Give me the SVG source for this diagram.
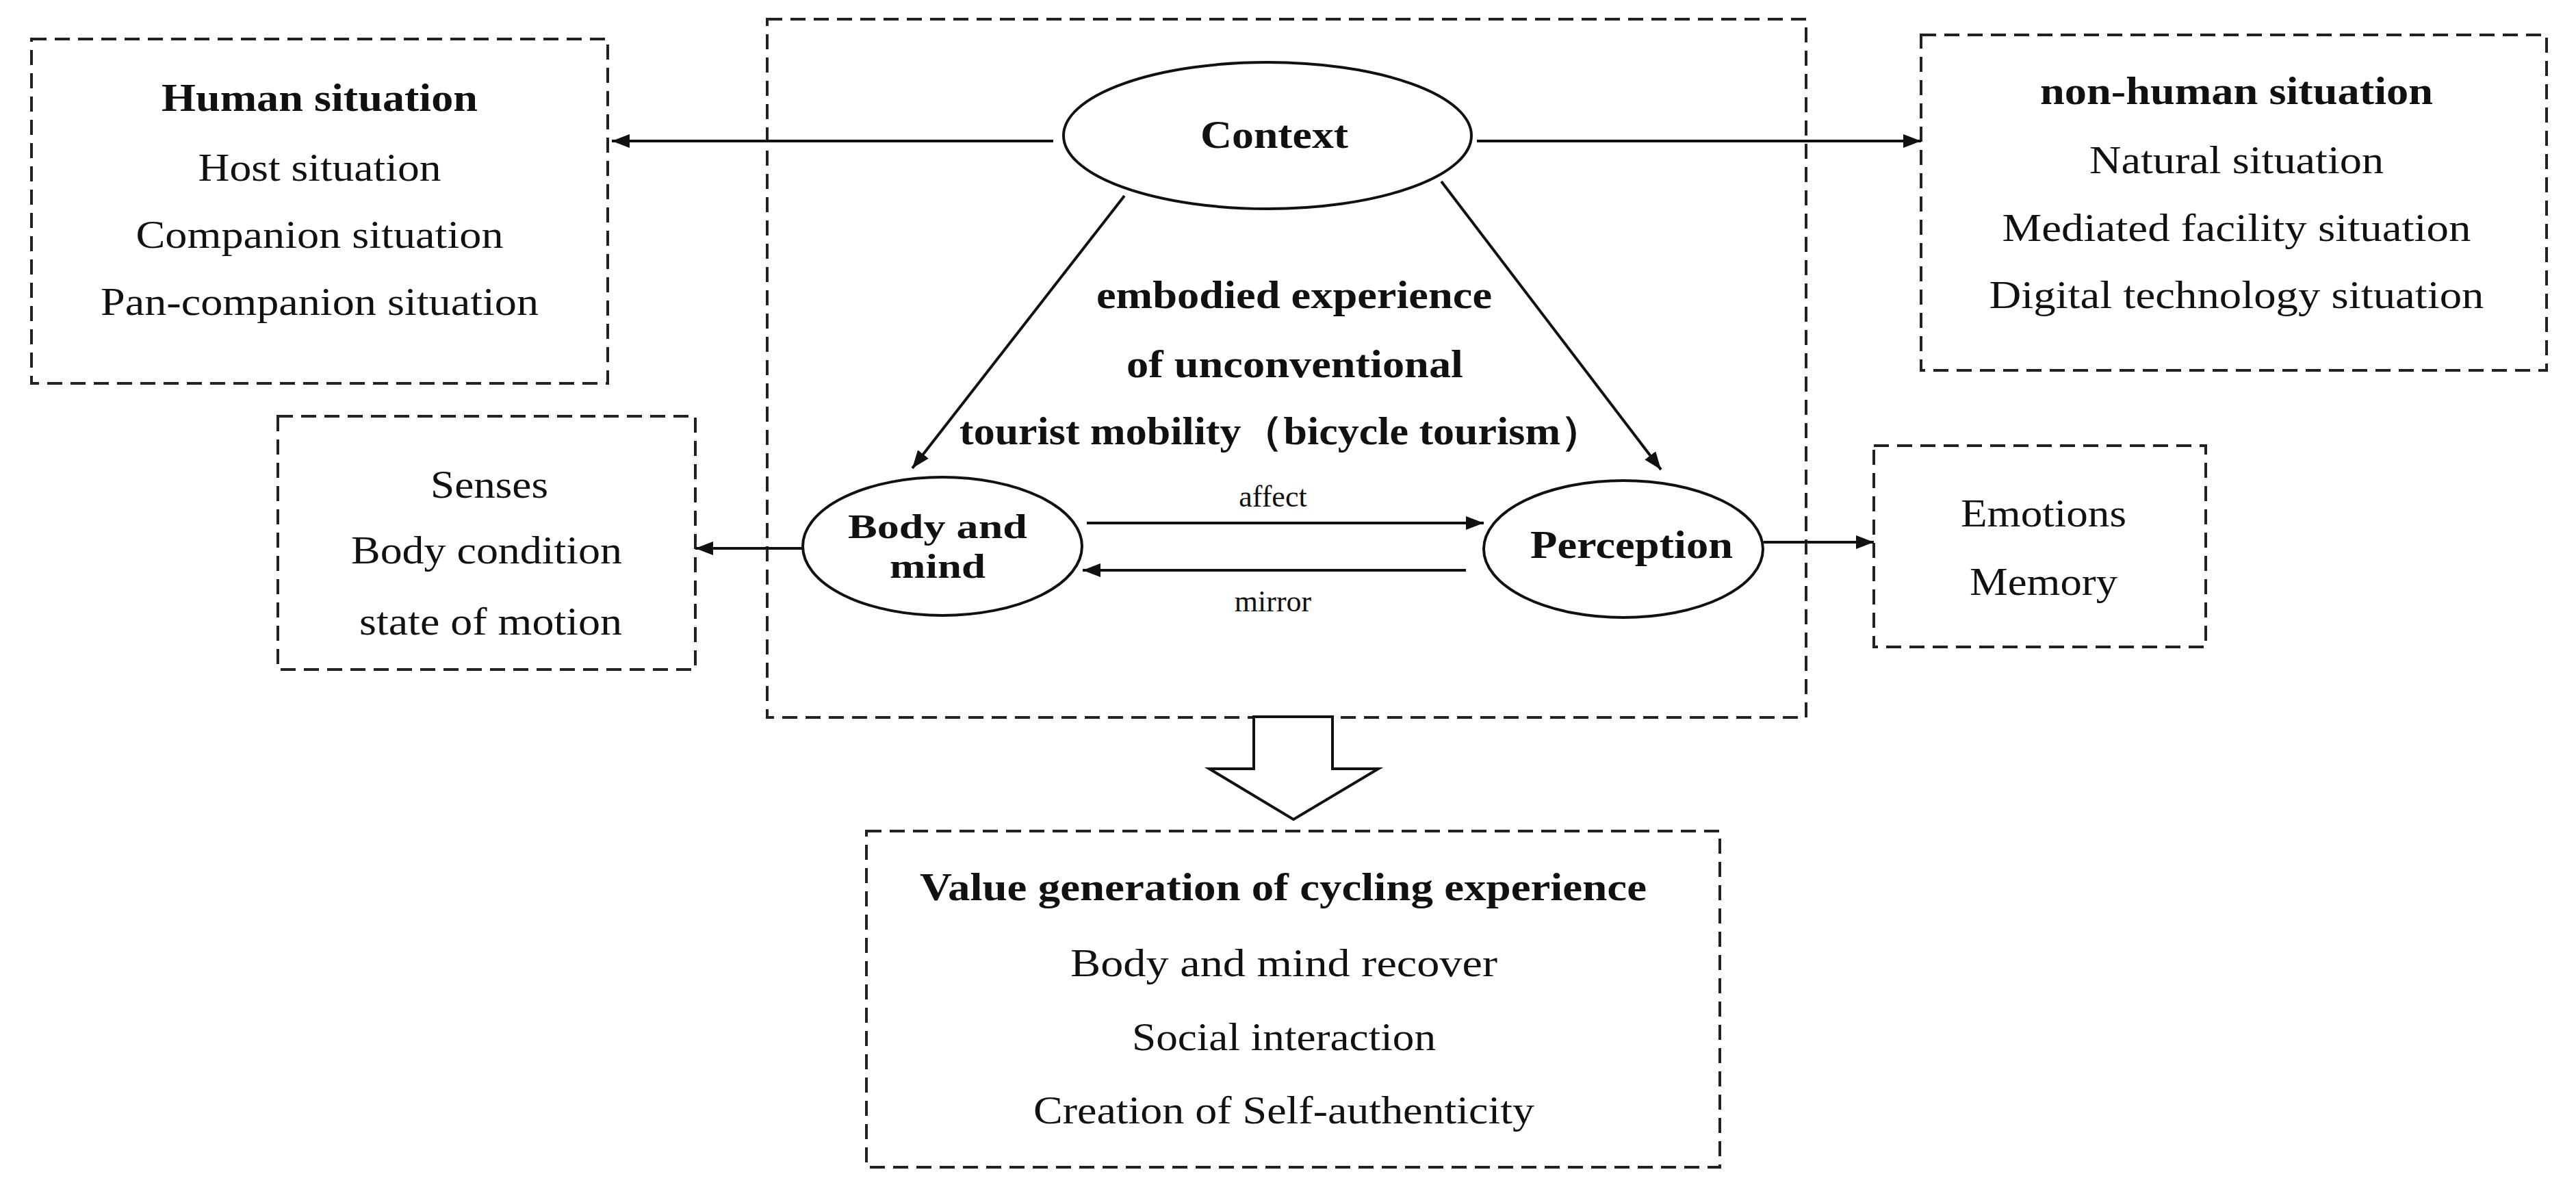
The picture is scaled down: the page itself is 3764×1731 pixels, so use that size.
<svg xmlns="http://www.w3.org/2000/svg" width="3764" height="1731" viewBox="0 0 3764 1731">
<style>
.box{fill:none;stroke:#222;stroke-width:4;stroke-dasharray:22,12}
.el{fill:#fff;stroke:#111;stroke-width:4}
.ln{fill:none;stroke:#111;stroke-width:4}
text{font-family:"Liberation Serif","Times New Roman",serif;font-size:58px;fill:#111;text-anchor:middle}
.b{font-weight:bold}
.s{font-size:44px}
.m{font-size:50px}
</style>
<defs>
<marker id="a" viewBox="0 0 26 20" refX="26" refY="10" markerWidth="26" markerHeight="20" markerUnits="userSpaceOnUse" orient="auto">
<path d="M0,0 L26,10 L0,20 z" fill="#111"/>
</marker>
</defs>
<g id="frame"><rect class="box" x="1121" y="28" width="1518" height="1020"/></g>
<g id="human">
<rect class="box" x="46" y="57" width="842" height="503"/>
<text class="b" x="467" y="162" textLength="462" lengthAdjust="spacingAndGlyphs">Human situation</text>
<text x="467" y="264" textLength="355" lengthAdjust="spacingAndGlyphs">Host situation</text>
<text x="467" y="362" textLength="537" lengthAdjust="spacingAndGlyphs">Companion  situation</text>
<text x="467" y="460" textLength="640" lengthAdjust="spacingAndGlyphs">Pan-companion  situation</text>
</g>
<g id="nonhuman">
<rect class="box" x="2807" y="51" width="914" height="490"/>
<text class="b" x="3268" y="152" textLength="574" lengthAdjust="spacingAndGlyphs">non-human situation</text>
<text x="3268" y="253" textLength="430" lengthAdjust="spacingAndGlyphs">Natural  situation</text>
<text x="3268" y="352" textLength="685" lengthAdjust="spacingAndGlyphs">Mediated facility  situation</text>
<text x="3268" y="450" textLength="723" lengthAdjust="spacingAndGlyphs">Digital  technology  situation</text>
</g>
<g id="context">
<ellipse class="el" cx="1852" cy="198" rx="298" ry="107"/>
<text class="b" x="1862" y="216" textLength="216" lengthAdjust="spacingAndGlyphs">Context</text>
</g>
<g id="central-label">
<text class="b" x="1891" y="450" textLength="578" lengthAdjust="spacingAndGlyphs">embodied experience</text>
<text class="b" x="1892" y="551" textLength="492" lengthAdjust="spacingAndGlyphs">of unconventional</text>
<text class="b" x="1872" y="649" textLength="940" lengthAdjust="spacingAndGlyphs">tourist mobility（bicycle tourism）</text>
</g>
<g id="body">
<ellipse class="el" cx="1377" cy="798" rx="204" ry="101"/>
<text class="b m" x="1370" y="786" textLength="262" lengthAdjust="spacingAndGlyphs">Body and</text>
<text class="b m" x="1370" y="844" textLength="140" lengthAdjust="spacingAndGlyphs">mind</text>
</g>
<g id="perception">
<ellipse class="el" cx="2372" cy="802" rx="204" ry="100"/>
<text class="b" x="2384" y="815" textLength="296" lengthAdjust="spacingAndGlyphs">Perception</text>
</g>
<g id="senses">
<rect class="box" x="406" y="608" width="610" height="370"/>
<text x="715" y="727" textLength="172" lengthAdjust="spacingAndGlyphs">Senses</text>
<text x="711" y="823" textLength="396" lengthAdjust="spacingAndGlyphs">Body  condition</text>
<text x="717" y="927" textLength="384" lengthAdjust="spacingAndGlyphs">state of motion</text>
</g>
<g id="emotions">
<rect class="box" x="2738" y="651" width="485" height="294"/>
<text x="2986" y="769" textLength="242" lengthAdjust="spacingAndGlyphs">Emotions</text>
<text x="2986" y="869" textLength="216" lengthAdjust="spacingAndGlyphs">Memory</text>
</g>
<g id="value">
<rect class="box" x="1266" y="1214" width="1247" height="491"/>
<text class="b" x="1875" y="1315" textLength="1062" lengthAdjust="spacingAndGlyphs">Value generation of cycling experience</text>
<text x="1876" y="1426" textLength="624" lengthAdjust="spacingAndGlyphs">Body  and mind  recover</text>
<text x="1876" y="1534" textLength="444" lengthAdjust="spacingAndGlyphs">Social  interaction</text>
<text x="1876" y="1641" textLength="732" lengthAdjust="spacingAndGlyphs">Creation  of Self-authenticity</text>
</g>
<g id="connectors">
<line class="ln" x1="1539" y1="206" x2="894" y2="206" marker-end="url(#a)"/>
<line class="ln" x1="2158" y1="206" x2="2807" y2="206" marker-end="url(#a)"/>
<line class="ln" stroke-width="3" x1="1643" y1="286" x2="1333" y2="684" marker-end="url(#a)"/>
<line class="ln" stroke-width="3" x1="2106" y1="265" x2="2427" y2="686" marker-end="url(#a)"/>
<line class="ln" x1="1588" y1="764" x2="2168" y2="764" marker-end="url(#a)"/>
<line class="ln" x1="2142" y1="833" x2="1582" y2="833" marker-end="url(#a)"/>
<line class="ln" x1="1173" y1="801" x2="1016" y2="801" marker-end="url(#a)"/>
<line class="ln" x1="2577" y1="792" x2="2738" y2="792" marker-end="url(#a)"/>
<text class="s" x="1860" y="740">affect</text>
<text class="s" x="1860" y="893">mirror</text>
<path class="el" d="M1832,1047 L1947,1047 L1947,1123 L2014,1123 L1890,1197 L1767,1123 L1832,1123 Z"/>
</g>
</svg>
